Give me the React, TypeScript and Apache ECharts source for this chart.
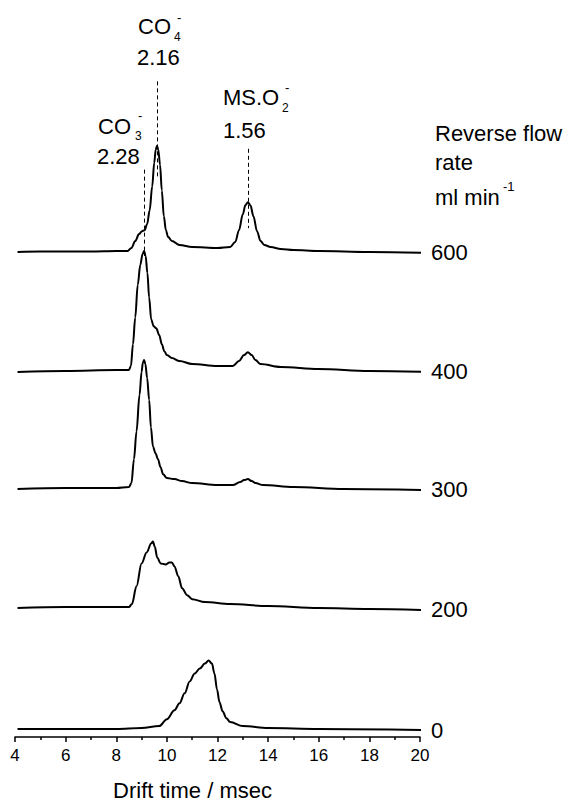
import React, { useEffect, useRef } from "react";
import * as echarts from "echarts";

// Drift time axis (msec)
const xTickValues = [4, 6, 8, 10, 12, 14, 16, 18, 20];

// Reverse flow rates (ml min^-1), top to bottom
const flowRates = ["600", "400", "300", "200", "0"];

// Vertical offset of each trace (signal units)
const traceOffsets = [489, 368, 250, 130, 8];

// Traces: [drift time, signal above the trace's baseline]
const trace600: [number, number][] = [
  [4.1, 0], [5, 0.5], [6, 0.5], [7, 0.5], [8, 1], [8.45, 1], [8.6, 4], [8.75, 11], [8.9, 18],
  [9.02, 21], [9.12, 22], [9.22, 28], [9.32, 42], [9.42, 66], [9.5, 90], [9.56, 103], [9.61, 107],
  [9.66, 103], [9.73, 88], [9.8, 62], [9.88, 36], [9.96, 22], [10.05, 15], [10.2, 11], [10.5, 7],
  [11, 5], [12, 4], [12.5, 5], [12.7, 10], [12.85, 22], [13.0, 38], [13.1, 47], [13.2, 50],
  [13.3, 47], [13.42, 36], [13.56, 21], [13.7, 11], [13.85, 7], [14.1, 5], [14.5, 3], [15, 2],
  [16, 1], [18, 0], [20.2, -1],
];
const trace400: [number, number][] = [
  [4.1, 0], [6, 1], [8, 2], [8.5, 2], [8.58, 6], [8.66, 28], [8.75, 55], [8.85, 88], [8.95, 108],
  [9.04, 119], [9.1, 122], [9.16, 117], [9.23, 100], [9.3, 75], [9.38, 53], [9.48, 46], [9.58, 44],
  [9.7, 37], [9.8, 28], [9.9, 21], [10.0, 17], [10.2, 14], [10.5, 11], [11, 8], [12, 6], [12.6, 6],
  [12.85, 11], [13.05, 17], [13.2, 20], [13.35, 17], [13.5, 12], [13.7, 8], [14.5, 5], [16, 3],
  [18, 1], [20.2, 0],
];
const trace300: [number, number][] = [
  [4.1, 0], [6, 1], [8, 1], [8.5, 2], [8.6, 6], [8.7, 30], [8.8, 58], [8.92, 95], [9.0, 118],
  [9.05, 127], [9.1, 130], [9.15, 126], [9.22, 112], [9.3, 90], [9.37, 62], [9.45, 43],
  [9.55, 36], [9.65, 30], [9.75, 22], [9.85, 15], [10.0, 11], [10.3, 10], [10.6, 8], [11, 6],
  [12, 4], [12.6, 4], [12.9, 7], [13.05, 9], [13.2, 10], [13.35, 8], [13.5, 6], [13.8, 4],
  [15, 2], [17, 0], [20.2, -1],
];
const trace200: [number, number][] = [
  [4.1, 0], [6, 1], [8, 1], [8.5, 1], [8.62, 4], [8.8, 22], [9.0, 45], [9.2, 56], [9.38, 65],
  [9.45, 67], [9.52, 62], [9.62, 51], [9.75, 45], [9.95, 44], [10.1, 46], [10.2, 46], [10.3, 42],
  [10.45, 32], [10.6, 20], [10.8, 13], [11.0, 9], [11.5, 6], [12.5, 4], [14, 2], [16, 0],
  [18, -1], [20.2, -2],
];
const trace0: [number, number][] = [
  [4.1, 0], [6, 0], [8, 0], [9, 1], [9.7, 3], [10.0, 10], [10.3, 19], [10.5, 26], [10.7, 36],
  [10.9, 48], [11.1, 56], [11.3, 61], [11.5, 66], [11.65, 69], [11.78, 66], [11.88, 56],
  [11.98, 40], [12.08, 27], [12.2, 18], [12.35, 11], [12.5, 7], [13, 3], [14, 1], [16, 0],
  [20.2, -1],
];
const traces = [trace600, trace400, trace300, trace200, trace0];

// Peak assignments (drift time, reduced mobility)
const peakIons = ["CO3", "CO4", "MS.O2"];
const peakMobility = ["2.28", "2.16", "1.56"];
const peakDriftTimes = [9.1, 9.6, 13.2];
const markerTops = [572, 661, 593];
const markerBottoms = [485, 563, 513];

const FONT = "'Liberation Sans', Arial, Helvetica, sans-serif";

function txt(text: string, x: number, y: number, size: number) {
  return {
    type: "text",
    x,
    y,
    style: {
      text,
      fill: "#000",
      fontSize: size,
      fontFamily: FONT,
      align: "left",
      verticalAlign: "middle",
    },
  };
}

export default function App() {
  const ref = useRef<HTMLDivElement>(null);

  useEffect(() => {
    if (!ref.current) return;
    const chart = echarts.init(ref.current, undefined, { renderer: "svg" });

    const series = traces.map((tr, i) => ({
      type: "line",
      name: flowRates[i],
      data: tr.map(([x, y]) => [x, y + traceOffsets[i]]),
      showSymbol: false,
      symbol: "none",
      smooth: 0.35,
      smoothMonotone: "x",
      clip: false,
      lineStyle: { color: "#000", width: 2 },
      endLabel: {
        show: true,
        formatter: flowRates[i],
        color: "#000",
        fontSize: 22,
        fontFamily: FONT,
        distance: 10,
      },
      markLine:
        i === 0
          ? {
              symbol: "none",
              silent: true,
              label: { show: false },
              lineStyle: { color: "#000", width: 1, type: [4, 3] },
              data: peakDriftTimes.map((t, k) => [
                { coord: [t, markerTops[k]] },
                { coord: [t, markerBottoms[k]] },
              ]),
            }
          : undefined,
    }));

    chart.setOption({
      animation: false,
      backgroundColor: "#fff",
      grid: { left: 15, right: 155, top: 3, bottom: 63 },
      xAxis: {
        type: "value",
        min: 4,
        max: 20,
        interval: 2,
        splitLine: { show: false },
        axisLine: { show: true, onZero: false, lineStyle: { color: "#000", width: 1.5 } },
        axisTick: { show: true, length: 5, lineStyle: { color: "#000", width: 1.5 } },
        minorTick: { show: true, splitNumber: 2, length: 3, lineStyle: { color: "#000", width: 1.5 } },
        axisLabel: {
          color: "#000",
          fontSize: 17,
          fontFamily: FONT,
          margin: 10,
          formatter: (v: number) => (xTickValues.includes(v) ? String(v) : ""),
        },
        name: "Drift time / msec",
        nameLocation: "middle",
        nameGap: 42,
        nameTextStyle: { color: "#000", fontSize: 22, fontFamily: FONT, padding: [0, 50, 0, 0] },
      },
      yAxis: {
        type: "value",
        min: 0,
        max: 740,
        show: false,
      },
      series,
      graphic: [
        // CO4-
        txt("CO", 138, 26, 22),
        txt("4", 174, 37, 12),
        txt("-", 177, 17, 13),
        txt(peakMobility[1], 137, 57, 22),
        // CO3-
        txt("CO", 98, 126, 22),
        txt("3", 135, 136, 12),
        txt("-", 138, 115, 13),
        txt(peakMobility[0], 97, 156, 22),
        // MS.O2-
        txt("MS.O", 223, 97, 22),
        txt("2", 282, 108, 12),
        txt("-", 285, 87, 13),
        txt(peakMobility[2], 223, 130, 22),
        // legend title
        txt("Reverse flow", 435, 133, 22),
        txt("rate", 435, 162, 22),
        txt("ml min", 435, 197, 22),
        txt("-1", 503, 186, 13),
      ],
    });

    return () => chart.dispose();
  }, []);

  return (
    <div
      ref={ref}
      style={{ position: "fixed", left: 0, top: 0, width: 575, height: 806, background: "#fff" }}
    />
  );
}
